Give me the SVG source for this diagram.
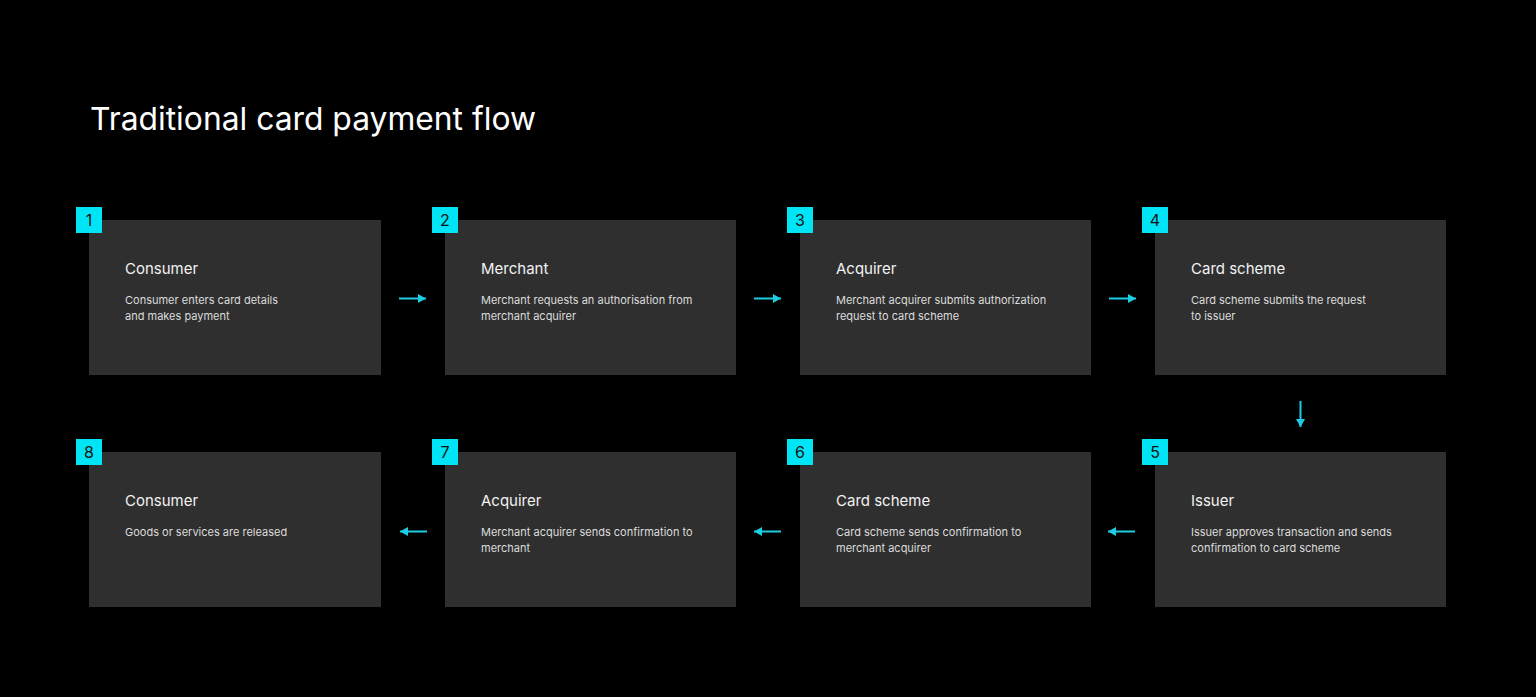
<svg xmlns="http://www.w3.org/2000/svg" width="1536" height="697" viewBox="0 0 1536 697">
<defs>
<style>
.box{fill:#2f2f2f}
.badge{fill:#00e5f5}
.bnum{font-family:Inter,"Noto Sans",sans-serif;font-size:16px;fill:#111;text-anchor:middle}
.h{font-family:Inter,"Noto Sans",sans-serif;font-size:15px;fill:#f2f2f2;font-weight:400}
.d{font-family:Inter,"Noto Sans",sans-serif;font-size:11px;fill:#dcdcdc}
.title{font-family:Inter,"Noto Sans",sans-serif;font-size:31.8px;fill:#ffffff}
.c{stroke:#1ccde3;stroke-width:2;fill:none}
</style>
<marker id="ah" viewBox="0 0 8 9" refX="8" refY="4.5" markerWidth="8" markerHeight="9" markerUnits="userSpaceOnUse" orient="auto">
<path d="M0,0 L8,4.5 L0,9 z" fill="#1ccde3"/>
</marker>
</defs>
<rect width="1536" height="697" fill="#000"/>
<text class="title" x="90" y="130">Traditional card payment flow</text>

<g id="node1"><rect class="box" x="89" y="220" width="292" height="155"/><rect class="badge" x="76" y="207" width="26" height="26"/><text class="bnum" x="89" y="226">1</text><text class="h" x="125" y="274">Consumer</text><text class="d" x="125" y="304">Consumer enters card details</text><text class="d" x="125" y="320">and makes payment</text></g>
<g id="node2"><rect class="box" x="445" y="220" width="291" height="155"/><rect class="badge" x="432" y="207" width="26" height="26"/><text class="bnum" x="445" y="226">2</text><text class="h" x="481" y="274">Merchant</text><text class="d" x="481" y="304">Merchant requests an authorisation from</text><text class="d" x="481" y="320">merchant acquirer</text></g>
<g id="node3"><rect class="box" x="800" y="220" width="291" height="155"/><rect class="badge" x="787" y="207" width="26" height="26"/><text class="bnum" x="800" y="226">3</text><text class="h" x="836" y="274">Acquirer</text><text class="d" x="836" y="304">Merchant acquirer submits authorization</text><text class="d" x="836" y="320">request to card scheme</text></g>
<g id="node4"><rect class="box" x="1155" y="220" width="291" height="155"/><rect class="badge" x="1142" y="207" width="26" height="26"/><text class="bnum" x="1155" y="226">4</text><text class="h" x="1191" y="274">Card scheme</text><text class="d" x="1191" y="304">Card scheme submits the request</text><text class="d" x="1191" y="320">to issuer</text></g>
<g id="node5"><rect class="box" x="1155" y="452" width="291" height="155"/><rect class="badge" x="1142" y="439" width="26" height="26"/><text class="bnum" x="1155" y="458">5</text><text class="h" x="1191" y="506">Issuer</text><text class="d" x="1191" y="536">Issuer approves transaction and sends</text><text class="d" x="1191" y="552">confirmation to card scheme</text></g>
<g id="node6"><rect class="box" x="800" y="452" width="291" height="155"/><rect class="badge" x="787" y="439" width="26" height="26"/><text class="bnum" x="800" y="458">6</text><text class="h" x="836" y="506">Card scheme</text><text class="d" x="836" y="536">Card scheme sends confirmation to</text><text class="d" x="836" y="552">merchant acquirer</text></g>
<g id="node7"><rect class="box" x="445" y="452" width="291" height="155"/><rect class="badge" x="432" y="439" width="26" height="26"/><text class="bnum" x="445" y="458">7</text><text class="h" x="481" y="506">Acquirer</text><text class="d" x="481" y="536">Merchant acquirer sends confirmation to</text><text class="d" x="481" y="552">merchant</text></g>
<g id="node8"><rect class="box" x="89" y="452" width="292" height="155"/><rect class="badge" x="76" y="439" width="26" height="26"/><text class="bnum" x="89" y="458">8</text><text class="h" x="125" y="506">Consumer</text><text class="d" x="125" y="536">Goods or services are released</text></g>

<g id="connectors">
<line class="c" x1="399" y1="298.5" x2="426" y2="298.5" marker-end="url(#ah)"/>
<line class="c" x1="754" y1="298.5" x2="781" y2="298.5" marker-end="url(#ah)"/>
<line class="c" x1="1109" y1="298.5" x2="1136" y2="298.5" marker-end="url(#ah)"/>
<line class="c" x1="1300.5" y1="401" x2="1300.5" y2="427" marker-end="url(#ah)"/>
<line class="c" x1="1135" y1="531.5" x2="1108" y2="531.5" marker-end="url(#ah)"/>
<line class="c" x1="781" y1="531.5" x2="754" y2="531.5" marker-end="url(#ah)"/>
<line class="c" x1="427" y1="531.5" x2="400" y2="531.5" marker-end="url(#ah)"/>
</g>
</svg>
